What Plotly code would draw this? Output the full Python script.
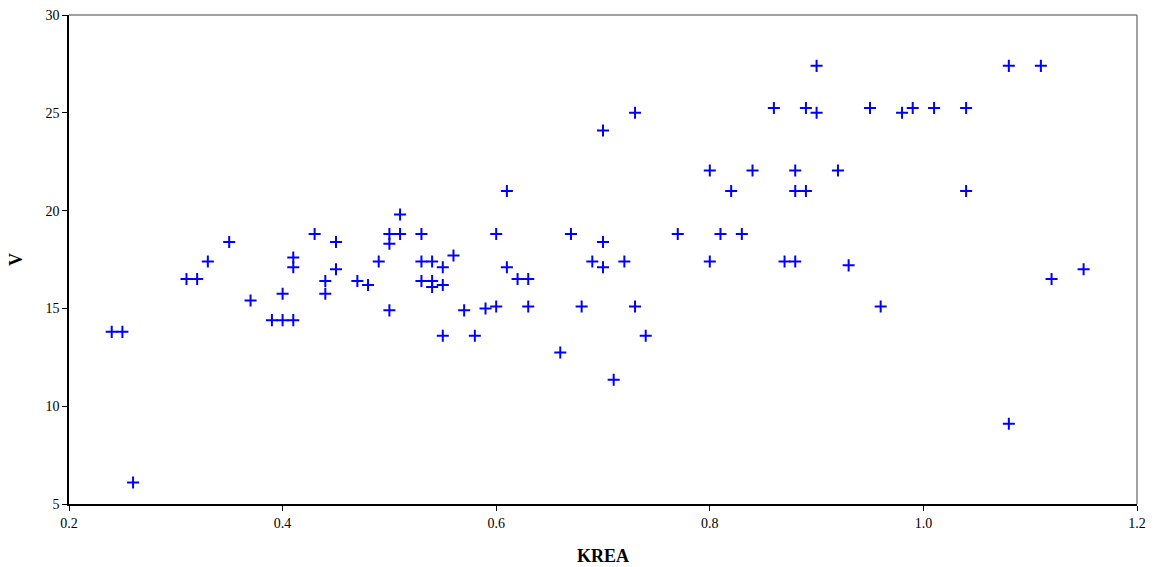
import plotly.graph_objects as go

# KREA vs V measurements
krea = [
    0.24, 0.25, 0.26, 0.31, 0.32, 0.33, 0.35, 0.37, 0.39, 0.40, 0.41, 0.40,
    0.41, 0.41, 0.43, 0.44, 0.44, 0.45, 0.45, 0.47, 0.48, 0.49, 0.50, 0.50,
    0.50, 0.51, 0.51, 0.53, 0.53, 0.53, 0.54, 0.54, 0.54, 0.55, 0.55, 0.55,
    0.56, 0.57, 0.58, 0.59, 0.60, 0.60, 0.61, 0.61, 0.62, 0.63, 0.63, 0.66,
    0.67, 0.68, 0.69, 0.70, 0.70, 0.70, 0.71, 0.72, 0.73, 0.73, 0.74, 0.77,
    0.80, 0.80, 0.81, 0.82, 0.83, 0.84, 0.86, 0.87, 0.88, 0.88, 0.88, 0.89,
    0.89, 0.90, 0.90, 0.92, 0.93, 0.95, 0.96, 0.98, 0.99, 1.01, 1.04, 1.04,
    1.08, 1.08, 1.11, 1.12, 1.15,
]
v = [
    13.8, 13.8, 6.1, 16.5, 16.5, 17.4, 18.4, 15.4, 14.4, 14.4, 14.4, 15.75,
    17.6, 17.1, 18.8, 16.4, 15.75, 18.4, 17.0, 16.4, 16.2, 17.4, 18.8, 18.3,
    14.9, 19.8, 18.8, 18.8, 17.4, 16.4, 17.4, 16.4, 16.1, 17.1, 16.2, 13.6,
    17.7, 14.9, 13.6, 15.0, 18.8, 15.1, 21.0, 17.1, 16.5, 16.5, 15.1, 12.75,
    18.8, 15.1, 17.4, 24.1, 18.4, 17.1, 11.35, 17.4, 25.0, 15.1, 13.6, 18.8,
    22.05, 17.4, 18.8, 21.0, 18.8, 22.05, 25.25, 17.4, 17.4, 22.05, 21.0, 21.0,
    25.25, 27.4, 25.0, 22.05, 17.2, 25.25, 15.1, 25.0, 25.25, 25.25, 25.25, 21.0,
    27.4, 9.1, 27.4, 16.5, 17.0,
]

x_ticks = [0.2, 0.4, 0.6, 0.8, 1.0, 1.2]
y_ticks = [5, 10, 15, 20, 25, 30]

serif = "Liberation Serif"

fig = go.Figure(
    go.Scatter(
        x=krea,
        y=v,
        mode="markers",
        marker=dict(
            symbol="cross-thin",
            size=8.6,
            line=dict(color="#0000FF", width=2),
            color="#0000FF",
        ),
        hoverinfo="x+y",
    )
)

fig.update_layout(
    width=1159,
    height=567,
    margin=dict(l=69, r=22, t=15, b=63),
    paper_bgcolor="white",
    plot_bgcolor="white",
    showlegend=False,
    font=dict(family=serif, size=14, color="black"),
    xaxis=dict(
        range=[0.2, 1.2],
        tickvals=x_ticks,
        ticktext=[f"{t:.1f}" for t in x_ticks],
        ticks="outside",
        ticklen=5,
        tickcolor="black",
        showgrid=False,
        zeroline=False,
        showline=True,
        linecolor="black",
        linewidth=1.5,
        automargin=False,
        title=dict(text="<b>KREA</b>", font=dict(family=serif, size=18), standoff=20),
    ),
    yaxis=dict(
        range=[5, 30],
        tickvals=y_ticks,
        ticks="outside",
        ticklen=5,
        tickcolor="black",
        showgrid=False,
        zeroline=False,
        showline=True,
        linecolor="black",
        linewidth=1.5,
        automargin=False,
        title=dict(text="<b>V</b>", font=dict(family=serif, size=18), standoff=18),
    ),
)

# light frame on the top and right edges of the plot area
fig.add_shape(type="line", xref="x domain", yref="y domain", x0=0, x1=1, y0=1, y1=1,
              line=dict(color="#808080", width=1.5))
fig.add_shape(type="line", xref="x domain", yref="y domain", x0=1, x1=1, y0=0, y1=1,
              line=dict(color="#808080", width=1.5))

fig.write_html("out.html")
